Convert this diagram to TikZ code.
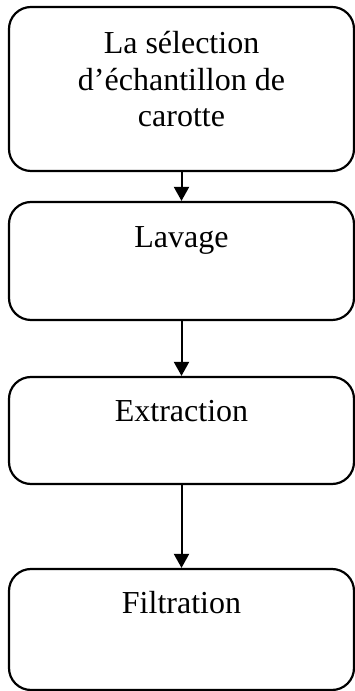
\documentclass[tikz,border=0pt]{standalone}
\usepackage{fontspec}
\setmainfont{Liberation Serif}
\usetikzlibrary{arrows.meta}
\begin{document}
\begin{tikzpicture}[x=1pt,y=1pt,
  stepbox/.style={draw=black, line width=2.2pt, rounded corners=22pt,
    minimum width=345pt, inner sep=0pt},
  steptext/.style={anchor=base, align=center, inner sep=0pt,
    font=\fontsize{32}{36.5}\selectfont},
  flow/.style={draw=black, line width=2pt, -{Triangle[length=14pt,width=15pt]}}]
  \useasboundingbox (0,0) rectangle (355,691);
  % step boxes (y measured from the top edge)
  \node[stepbox, minimum height=164pt] (b1) at (181.5,691-89) {};
  \node[stepbox, minimum height=118pt] (b2) at (181.5,691-261) {};
  \node[stepbox, minimum height=107pt] (b3) at (181.5,691-430.5) {};
  \node[stepbox, minimum height=121pt] (b4) at (181.5,691-629.5) {};
  % labels (a multi-line label sits on the baseline of its last line)
  \node[steptext] (t1) at ([yshift=-121pt]b1.north) {La sélection\\d’échantillon de\\carotte};
  \node[steptext] (t2) at ([yshift=-47pt]b2.north) {Lavage};
  \node[steptext] (t3) at ([yshift=-46pt]b3.north) {Extraction};
  \node[steptext] (t4) at ([yshift=-46pt]b4.north) {Filtration};
  % connectors
  \draw[flow] (b1.south) -- (b2.north);
  \draw[flow] (b2.south) -- (b3.north);
  \draw[flow] (b3.south) -- (b4.north);
\end{tikzpicture}
\end{document}
